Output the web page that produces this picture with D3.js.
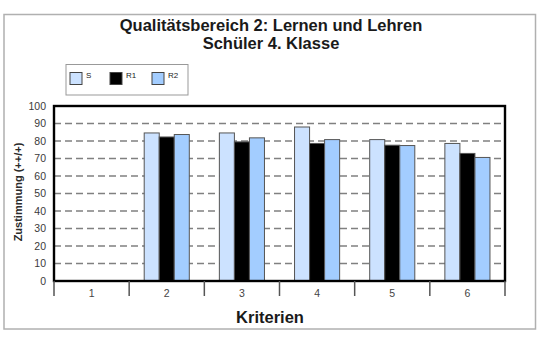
<!DOCTYPE html>
<html><head><meta charset="utf-8">
<script src="https://cdn.jsdelivr.net/npm/d3@7"></script>
<style>body{margin:0;background:#fff}svg{display:block;font-family:Arial,"Liberation Sans",sans-serif}</style>
</head><body>
<svg id="c" width="540" height="340"></svg>
<script>
const categories = ["1","2","3","4","5","6"];
const seriesNames = ["S","R1","R2"];
const valuesS  = [null, 84.6, 84.6, 88.0, 80.8, 78.6];
const valuesR1 = [null, 82.3, 79.5, 78.6, 77.6, 72.9];
const valuesR2 = [null, 83.7, 81.8, 80.8, 77.4, 70.6];
const yTicks = [0,10,20,30,40,50,60,70,80,90,100];
const colors = ["#cce2ff","#000000","#a3cdff"];

const series = [valuesS, valuesR1, valuesR2];
const svg = d3.select("#c");
const L = 54, R = 505, T = 106, B = 281;

// outer frame
svg.append("rect").attr("x",4).attr("y",14.5).attr("width",531.5).attr("height",314.5)
  .attr("fill","#fff").attr("stroke","#b0b0b0").attr("stroke-width",1.5);

// titles
svg.append("text").attr("x",271).attr("y",31).attr("text-anchor","middle")
  .attr("font-size",16.5).attr("font-weight","bold").attr("fill","#1a1a1a")
  .text("Qualitätsbereich 2: Lernen und Lehren");
svg.append("text").attr("x",271).attr("y",49).attr("text-anchor","middle")
  .attr("font-size",16.5).attr("font-weight","bold").attr("fill","#1a1a1a")
  .text("Schüler 4. Klasse");

// legend
svg.append("rect").attr("x",66).attr("y",64.5).attr("width",122).attr("height",30.5)
  .attr("fill","#fff").attr("stroke","#999").attr("stroke-width",1);
const legX = [70,110,152];
seriesNames.forEach((n,i)=>{
  svg.append("rect").attr("x",legX[i]).attr("y",72.5).attr("width",12).attr("height",12)
    .attr("fill",colors[i]).attr("stroke","#444").attr("stroke-width",1);
  svg.append("text").attr("x",legX[i]+16).attr("y",78).attr("font-size",8).attr("fill","#222").text(n);
});

const x = d3.scaleBand().domain(categories).range([L,R]).padding(0);
const xs = d3.scaleBand().domain(seriesNames).range([x.bandwidth()*0.2, x.bandwidth()*0.8]).padding(0);
const y = d3.scaleLinear().domain([0,100]).range([B,T]);

// gridlines
svg.append("g").selectAll("line").data(yTicks.filter(t=>t>0&&t<100)).join("line")
  .attr("x1",L).attr("x2",R).attr("y1",d=>y(d)).attr("y2",d=>y(d))
  .attr("stroke","#808080").attr("stroke-width",1.6).attr("stroke-dasharray","7,4");

// bars
const g = svg.append("g");
series.forEach((vals,si)=>{
  g.selectAll(null).data(categories.map((c,i)=>({c,v:vals[i]})).filter(d=>d.v!=null)).join("rect")
    .attr("x",d=>x(d.c)+xs(seriesNames[si]))
    .attr("y",d=>y(d.v))
    .attr("width",xs.bandwidth())
    .attr("height",d=>B-y(d.v))
    .attr("fill",colors[si]).attr("stroke","#555").attr("stroke-width",1);
});

// plot border
svg.append("rect").attr("x",L).attr("y",T).attr("width",R-L).attr("height",B-T)
  .attr("fill","none").attr("stroke","#000").attr("stroke-width",2.4);

// y axis labels
const yAxis = d3.axisLeft(y).tickValues(yTicks).tickSize(0).tickPadding(8);
const ya = svg.append("g").attr("transform",`translate(${L},0)`).call(yAxis);
ya.select(".domain").remove();
ya.selectAll("text").attr("font-size",10.5).attr("fill","#3a3a3a").attr("font-family","Arial,'Liberation Sans',sans-serif");

// x axis with ticks at band boundaries
const xa = svg.append("g").attr("transform",`translate(0,${B})`);
const bounds = categories.map(c=>x(c)).concat([R]);
xa.selectAll("line").data(bounds).join("line")
  .attr("x1",d=>d).attr("x2",d=>d).attr("y1",0).attr("y2",15)
  .attr("stroke","#555").attr("stroke-width",1.5);
xa.selectAll("text").data(categories).join("text")
  .attr("x",d=>x(d)+x.bandwidth()/2).attr("y",16).attr("text-anchor","middle")
  .attr("font-size",10.5).attr("fill","#444").text(d=>d);

// axis titles
svg.append("text").attr("x",270).attr("y",322.5).attr("text-anchor","middle")
  .attr("font-size",16.5).attr("font-weight","bold").attr("fill","#1a1a1a").text("Kriterien");
svg.append("text").attr("transform","translate(22,192) rotate(-90)").attr("text-anchor","middle")
  .attr("font-size",11).attr("font-weight","bold").attr("fill","#2a2a2a").text("Zustimmung (++/+)");
</script>
</body></html>
